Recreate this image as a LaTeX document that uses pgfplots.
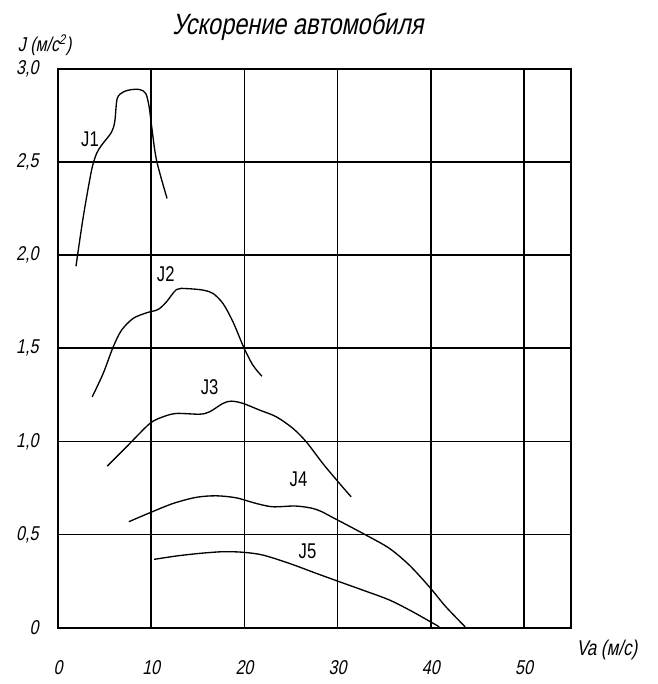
\documentclass[border=0pt]{standalone}
\usepackage{pgfplots}
\pgfplotsset{compat=1.18}
\usepackage{fontspec}
\setmainfont{Liberation Sans}
\newfontfamily\gost{Liberation Sans}[FakeStretch=0.8, FakeSlant=0.2]
\newfontfamily\gostup{Liberation Sans}[FakeStretch=0.78]
\begin{document}
\begin{tikzpicture}
\begin{axis}[name=ax, at={(0,0)}, anchor=south west,
  scale only axis, width=384.5pt, height=419.25pt,
  xmin=0, xmax=55, ymin=0, ymax=3,
  xtick={0,10,20,30,40,50}, xticklabels={0,10,20,30,40,50},
  ytick={0,0.5,1,1.5,2,2.5,3},
  yticklabels={0,{0,5},{1,0},{1,5},{2,0},{2,5},{3,0}},
  grid=major, major tick length=0,
  axis line style={line width=1.6pt},
  major grid style={line width=1.1pt, black},
  tick label style={font=\gost\fontsize{15}{15}\selectfont, inner sep=0pt},
  xticklabel style={anchor=center, yshift=-30pt},
  yticklabel style={anchor=east, xshift=-14.5pt},
  clip=false]
\addplot[smooth, line width=1pt] table {
1.93 1.94
2.71 2.205
3.6 2.455
4.14 2.545
4.68 2.59
5.75 2.66
6.1 2.72
6.35 2.84
7.0 2.875
7.89 2.888
8.78 2.888
9.42 2.867
9.78 2.795
10.03 2.697
10.57 2.509
11.7 2.304
};
\addplot[smooth, line width=1pt] table {
3.67 1.239
4.85 1.365
5.92 1.507
6.82 1.597
8.06 1.66
9.5 1.69
10.74 1.708
11.64 1.749
12.71 1.815
13.78 1.82
15.56 1.812
16.63 1.794
17.7 1.74
18.77 1.642
19.95 1.502
20.91 1.409
21.87 1.35
};
\addplot[smooth, line width=1pt] table {
5.28 0.867
7.53 0.98
9.85 1.096
11.27 1.132
12.71 1.15
15.2 1.146
16.27 1.159
17.7 1.204
18.6 1.216
19.84 1.204
21.63 1.168
23.42 1.132
25.2 1.07
26.63 0.998
28.4 0.882
30.19 0.775
31.44 0.703
};
\addplot[smooth, line width=1pt] table {
7.6 0.569
9.85 0.617
12.35 0.667
14.85 0.7
16.99 0.708
19.13 0.697
21.27 0.667
23.05 0.649
25.55 0.653
27.7 0.635
29.84 0.582
33.05 0.497
35.55 0.426
37.69 0.336
39.83 0.22
41.6 0.113
43.68 0.005
};
\addplot[smooth, line width=1pt] table {
10.31 0.367
12.7 0.385
15.2 0.399
17.7 0.408
19.84 0.405
21.98 0.39
24.84 0.345
27.7 0.292
30.01 0.25
32.69 0.202
35.55 0.149
38.04 0.086
40.9 0.005
};
\node[font=\gostup\fontsize{16}{16}\selectfont] at (axis cs:3.43,2.622) {J1};
\node[font=\gostup\fontsize{16}{16}\selectfont] at (axis cs:11.56,1.898) {J2};
\node[font=\gostup\fontsize{16}{16}\selectfont] at (axis cs:16.27,1.292) {J3};
\node[font=\gostup\fontsize{16}{16}\selectfont] at (axis cs:25.8,0.797) {J4};
\node[font=\gostup\fontsize{16}{16}\selectfont] at (axis cs:26.77,0.411) {J5};
\node[font=\gost\fontsize{22}{22}\selectfont, inner sep=0pt, yshift=31.3pt] at (rel axis cs:0.468,1) {Ускорение автомобиля};
\node[font=\gost\fontsize{15}{15}\selectfont, inner sep=0pt, xshift=-10pt, yshift=17.5pt] at (rel axis cs:0,1) {J (м/с\textsuperscript{2})};
\node[font=\gost\fontsize{16}{16}\selectfont, inner sep=0pt, xshift=411.75pt, yshift=-16.7pt] at (rel axis cs:0,0) {Va (м/с)};
\end{axis}
\pgfresetboundingbox
\path[use as bounding box] ([shift={(-43.5pt,-42.2pt)}]ax.south west) rectangle ([shift={(449.25pt,470.8pt)}]ax.south west);
\end{tikzpicture}
\end{document}
